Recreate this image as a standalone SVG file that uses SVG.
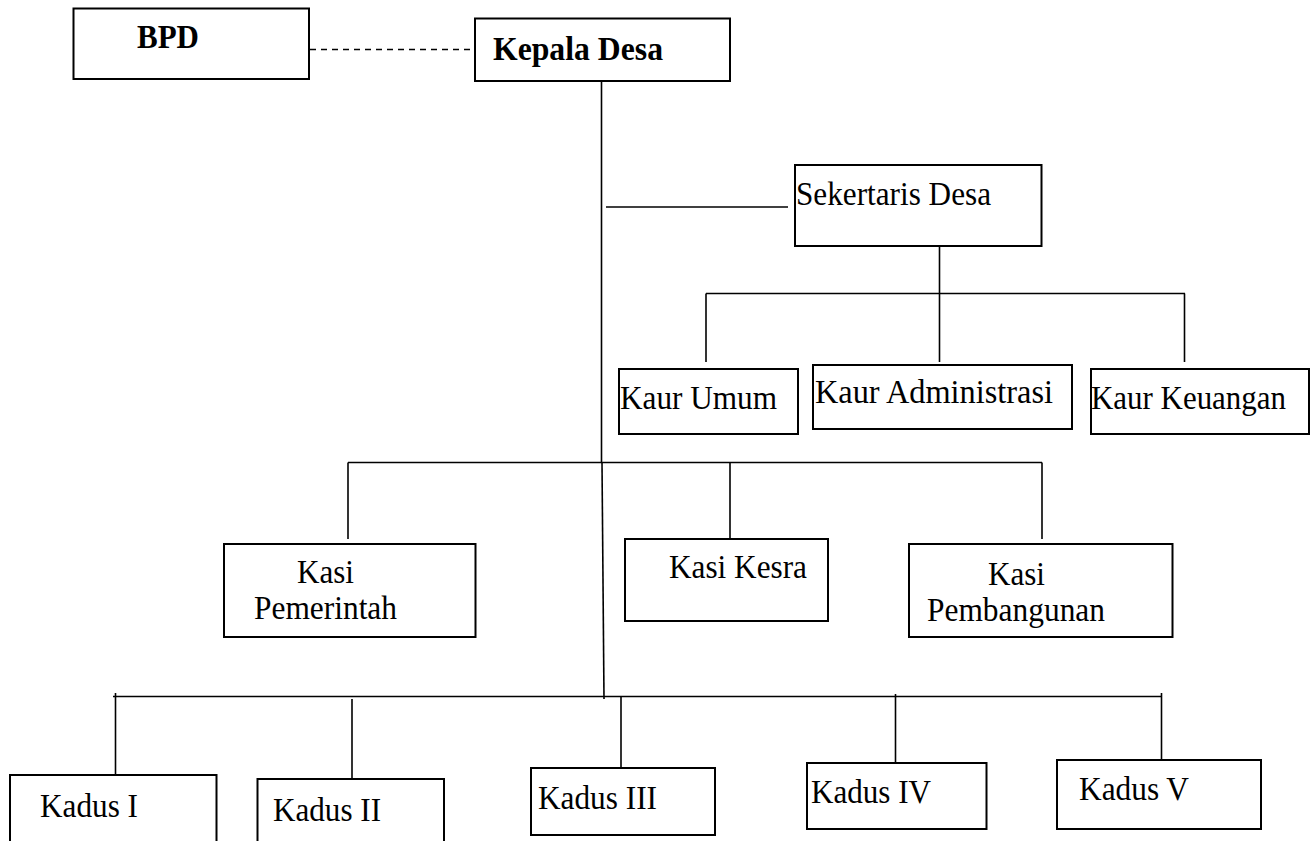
<svg xmlns="http://www.w3.org/2000/svg" width="1311" height="841" viewBox="0 0 1311 841">
<style>
  .box { fill: #ffffff; stroke: #000000; stroke-width: 2; }
  .ln { stroke: #000000; stroke-width: 1.6; fill: none; }
  .dash { stroke: #000000; stroke-width: 1.6; stroke-dasharray: 6 5; fill: none; }
  .t { font-family: "Liberation Serif", "Times New Roman", serif; font-size: 33.5px; fill: #000000; }
  .b { font-weight: bold; font-size: 33px; }
</style>
<rect width="1311" height="841" fill="#ffffff"/>
<g id="connectors">
  <line class="dash" x1="310" y1="49.5" x2="474" y2="49.5"/>
  <line class="ln" x1="601.5" y1="81" x2="601.5" y2="462.5"/>
  <line class="ln" x1="602" y1="462.5" x2="604" y2="699"/>
  <line class="ln" x1="606" y1="207" x2="788" y2="207"/>
  <line class="ln" x1="939.5" y1="246" x2="939.5" y2="293.5"/>
  <line class="ln" x1="706" y1="293.5" x2="1185" y2="293.5"/>
  <line class="ln" x1="706" y1="293.5" x2="706" y2="362"/>
  <line class="ln" x1="939.5" y1="293.5" x2="939.5" y2="362"/>
  <line class="ln" x1="1184.5" y1="293.5" x2="1184.5" y2="362"/>
  <line class="ln" x1="348" y1="462.5" x2="1042" y2="462.5"/>
  <line class="ln" x1="348" y1="462.5" x2="348" y2="539"/>
  <line class="ln" x1="730" y1="462.5" x2="730" y2="539"/>
  <line class="ln" x1="1042" y1="462.5" x2="1042" y2="539"/>
  <line class="ln" x1="113" y1="696.5" x2="1162" y2="696.5"/>
  <line class="ln" x1="115.5" y1="693" x2="115.5" y2="775"/>
  <line class="ln" x1="1161.5" y1="693" x2="1161.5" y2="760"/>
  <line class="ln" x1="352" y1="699" x2="352" y2="779"/>
  <line class="ln" x1="621" y1="697" x2="621" y2="768"/>
  <line class="ln" x1="895.5" y1="694" x2="895.5" y2="763"/>
</g>
<g id="bpd">
  <rect class="box" x="73.5" y="8.5" width="235.5" height="70.5"/>
  <text class="t b" x="137" y="48" textLength="62" lengthAdjust="spacingAndGlyphs">BPD</text>
</g>
<g id="kepala-desa">
  <rect class="box" x="475" y="18.5" width="255" height="62.5"/>
  <text class="t b" x="493" y="60" textLength="170" lengthAdjust="spacingAndGlyphs">Kepala Desa</text>
</g>
<g id="sekertaris-desa">
  <rect class="box" x="795" y="165" width="246.5" height="81"/>
  <text class="t" x="796" y="205" textLength="195" lengthAdjust="spacingAndGlyphs">Sekertaris Desa</text>
</g>
<g id="kaur-umum">
  <rect class="box" x="619" y="369" width="179" height="65"/>
  <text class="t" x="620" y="409" textLength="157" lengthAdjust="spacingAndGlyphs">Kaur Umum</text>
</g>
<g id="kaur-administrasi">
  <rect class="box" x="813" y="365" width="259" height="64"/>
  <text class="t" x="815" y="403" textLength="238" lengthAdjust="spacingAndGlyphs">Kaur Administrasi</text>
</g>
<g id="kaur-keuangan">
  <rect class="box" x="1091" y="369" width="218" height="65"/>
  <text class="t" x="1091" y="409" textLength="195" lengthAdjust="spacingAndGlyphs">Kaur Keuangan</text>
</g>
<g id="kasi-pemerintah">
  <rect class="box" x="224" y="544" width="251.5" height="93"/>
  <text class="t" x="297" y="583" textLength="57" lengthAdjust="spacingAndGlyphs">Kasi</text>
  <text class="t" x="254" y="619" textLength="143" lengthAdjust="spacingAndGlyphs">Pemerintah</text>
</g>
<g id="kasi-kesra">
  <rect class="box" x="625" y="539" width="203" height="82"/>
  <text class="t" x="669" y="578" textLength="138" lengthAdjust="spacingAndGlyphs">Kasi Kesra</text>
</g>
<g id="kasi-pembangunan">
  <rect class="box" x="909" y="544" width="263.5" height="93"/>
  <text class="t" x="988" y="585" textLength="57" lengthAdjust="spacingAndGlyphs">Kasi</text>
  <text class="t" x="927" y="621" textLength="178" lengthAdjust="spacingAndGlyphs">Pembangunan</text>
</g>
<g id="kadus-1">
  <rect class="box" x="10" y="775" width="206.5" height="80"/>
  <text class="t" x="40" y="817" textLength="98" lengthAdjust="spacingAndGlyphs">Kadus I</text>
</g>
<g id="kadus-2">
  <rect class="box" x="257.5" y="779" width="186.5" height="80"/>
  <text class="t" x="273" y="821" textLength="108" lengthAdjust="spacingAndGlyphs">Kadus II</text>
</g>
<g id="kadus-3">
  <rect class="box" x="531" y="768" width="184" height="67"/>
  <text class="t" x="538" y="809" textLength="119" lengthAdjust="spacingAndGlyphs">Kadus III</text>
</g>
<g id="kadus-4">
  <rect class="box" x="807" y="763" width="179.5" height="66"/>
  <text class="t" x="811" y="803" textLength="120" lengthAdjust="spacingAndGlyphs">Kadus IV</text>
</g>
<g id="kadus-5">
  <rect class="box" x="1057" y="760" width="204" height="69"/>
  <text class="t" x="1079" y="800" textLength="110" lengthAdjust="spacingAndGlyphs">Kadus V</text>
</g>
</svg>
